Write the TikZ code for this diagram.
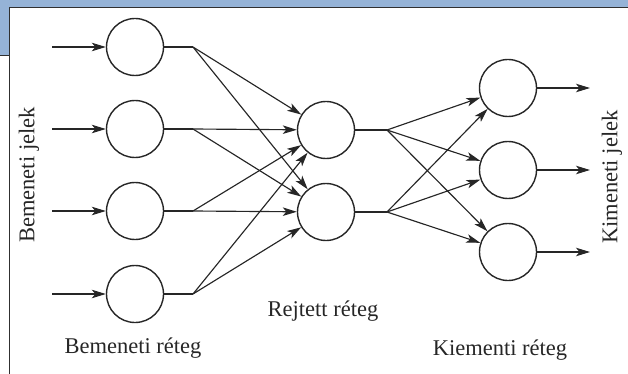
\documentclass[tikz,border=0pt]{standalone}
\usepackage{fontspec}
\setmainfont{Liberation Serif}
\usetikzlibrary{arrows.meta}
\definecolor{bandblue}{HTML}{95B3D7}
\definecolor{framegray}{HTML}{303030}
\begin{document}
\begin{tikzpicture}[x=1pt,y=-1pt,
 neuron/.style={circle,draw=black!85,line width=1.4pt,minimum size=57pt,inner sep=0pt},
 conn/.style={draw=black!85,line width=1.15pt,-{Stealth[length=14pt,width=8.5pt,inset=3.5pt]}},
 wire/.style={draw=black!85,line width=1.15pt},
 lbl/.style={font=\fontsize{22.5}{25}\selectfont,inner sep=0pt,text=black!85},
 framestyle/.style={draw=framegray,line width=1pt}]
\useasboundingbox (0,0) rectangle (628,374);
% header frame
\fill[bandblue] (0,0) rectangle (628,7.5);
\fill[bandblue] (0,0) rectangle (9,56);
\coordinate (fa) at (0,56);
\coordinate (fb) at (9,56);
\coordinate (fc) at (9,374);
\coordinate (fd) at (9,7.5);
\coordinate (fe) at (628,7.5);
\draw[framestyle] (fa) -- (fb);
\draw[framestyle] (fc) -- (fd) -- (fe);
% input layer
\foreach \n/\y in {1/47,2/129,3/211,4/294}{
  \node[neuron] (i\n) at (135,\y) {};
  \coordinate (s\n) at (52,\y);
  \coordinate (b\n) at (193,\y);
}
% hidden layer
\foreach \n/\y in {1/130,2/212}{
  \node[neuron] (h\n) at (326,\y) {};
  \coordinate (c\n) at (387,\y);
}
% output layer
\foreach \n/\y in {1/88,2/170,3/252}{
  \node[neuron] (o\n) at (508,\y) {};
  \coordinate (e\n) at (590,\y);
}
% input arrows and wires
\foreach \n in {1,2,3,4}{
  \draw[conn] (s\n) -- (i\n);
  \draw[wire] (i\n) -- (b\n);
  \draw[conn] (b\n) -- (h1);
  \draw[conn] (b\n) -- (h2);
}
% hidden to output
\foreach \n in {1,2}{
  \draw[wire] (h\n) -- (c\n);
  \draw[conn] (c\n) -- (o1);
  \draw[conn] (c\n) -- (o2);
  \draw[conn] (c\n) -- (o3);
}
% output arrows
\foreach \n in {1,2,3}{
  \draw[conn] (o\n) -- (e\n);
}
% labels
\node[lbl,rotate=90] (lin) at (29,175) {Bemeneti jelek};
\node[lbl,rotate=90] (lout) at (612,177) {Kimeneti jelek};
\node[lbl,anchor=base] (lrin) at (133,353) {Bemeneti réteg};
\node[lbl,anchor=base] (lrh) at (323,316) {Rejtett réteg};
\node[lbl,anchor=base] (lrout) at (500,355) {Kiementi réteg};
\end{tikzpicture}
\end{document}
